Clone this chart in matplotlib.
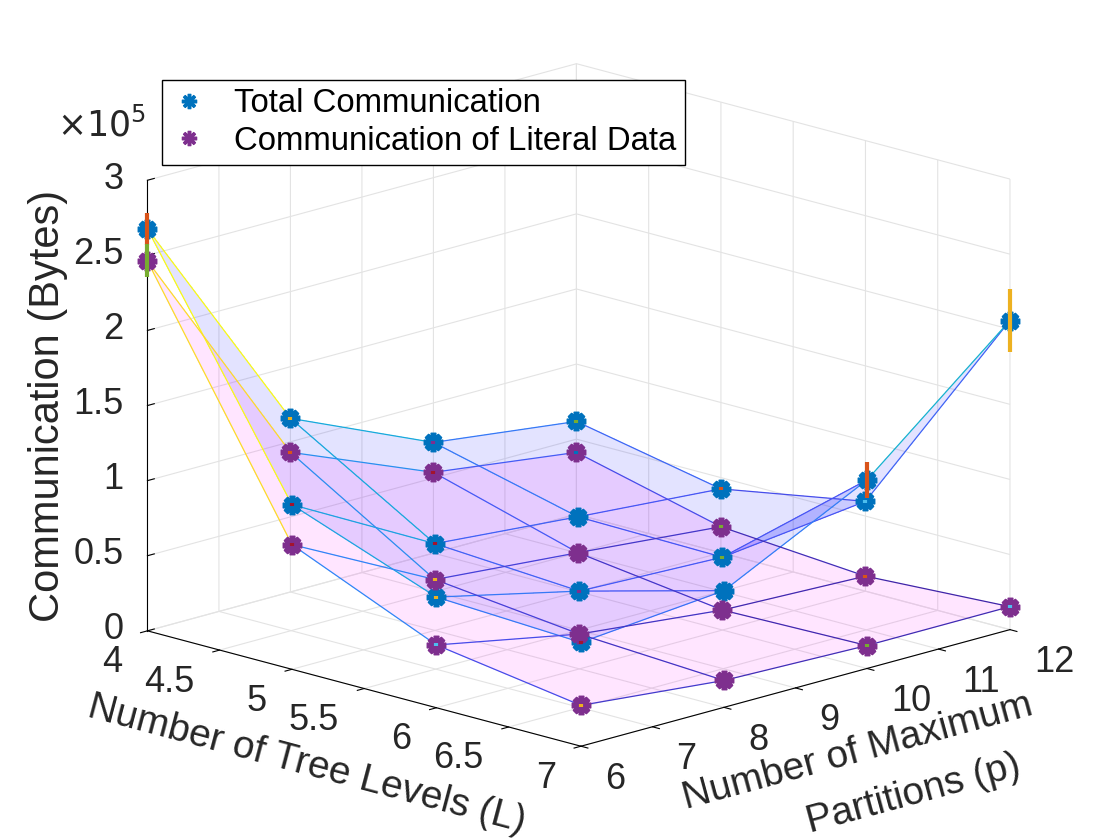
import numpy as np
import matplotlib.pyplot as plt
from matplotlib.colors import LinearSegmentedColormap, Normalize
from matplotlib.lines import Line2D
from matplotlib.transforms import offset_copy
from mpl_toolkits.mplot3d import proj3d
from mpl_toolkits.mplot3d.art3d import Line3DCollection

plt.rcParams['font.family'] = ['Liberation Sans', 'DejaVu Sans']

# ----- datos (bytes); filas = L, columnas = p -----
tree_levels = [4, 5, 6, 7]
max_partitions = [6, 8, 10, 12]

total_comm = [[267600, 115600, 73700, 61800],
              [109600, 57800, 49800, 42500],
              [73700, 51800, 48500, 59800],
              [69100, 77700, 125500, 205800]]
literal_comm = [[246300, 93000, 53800, 41200],
                [83000, 33900, 25900, 17300],
                [41800, 23200, 13300, 10000],
                [27200, 17900, 15300, 15300]]

total_err = [[10700, 1000, 1000, 1000],
             [1000, 1000, 1000, 1000],
             [1000, 1000, 1000, 1000],
             [1000, 1000, 12000, 21000]]
literal_err = [[11000, 1000, 1000, 1000],
               [1000, 1000, 1000, 1000],
               [1000, 1000, 1000, 1000],
               [1000, 1000, 1000, 1000]]

x_ticks = [4, 4.5, 5, 5.5, 6, 6.5, 7]
y_ticks = [6, 7, 8, 9, 10, 11, 12]
z_ticks = [0, 50000, 100000, 150000, 200000, 250000, 300000]
x_tick_labels = ['4', '4.5', '5', '5.5', '6', '6.5', '7']
y_tick_labels = ['6', '7', '8', '9', '10', '11', '12']
z_tick_labels = ['0', '0.5', '1', '1.5', '2', '2.5', '3']

# colores por defecto de matlab
mc = [(0, 0.447, 0.741), (0.85, 0.325, 0.098), (0.929, 0.694, 0.125),
      (0.494, 0.184, 0.556), (0.466, 0.674, 0.188), (0.301, 0.745, 0.933),
      (0.635, 0.078, 0.184)]
total_err_c = [[1, 2, 3, 4], [6, 6, 0, 1], [2, 3, 4, 5], [6, 0, 1, 2]]
literal_err_c = [[4, 1, 6, 0], [6, 2, 3, 4], [5, 3, 3, 1], [2, 3, 4, 5]]

parula = LinearSegmentedColormap.from_list('parula', [
    (0.2422, 0.1504, 0.6603), (0.2810, 0.3228, 0.9579), (0.1786, 0.5289, 0.9682),
    (0.0689, 0.6948, 0.8394), (0.2161, 0.7843, 0.5923), (0.6720, 0.7793, 0.2227),
    (0.9970, 0.7659, 0.2199), (0.9769, 0.9839, 0.0805)])

X, Y = np.meshgrid(tree_levels, max_partitions, indexing='ij')
Zt = np.array(total_comm, float)
Zl = np.array(literal_comm, float)
norm = Normalize(min(Zt.min(), Zl.min()), max(Zt.max(), Zl.max()))

fig = plt.figure(figsize=(11.2, 8.4), dpi=100)
ax = fig.add_axes([-0.0225, -0.201, 1.05, 1.4], projection='3d', proj_type='ortho',
                  computed_zorder=False)
ax.view_init(elev=15.6, azim=-45.3)
ax.set_box_aspect((1, 1, 0.767), zoom=0.81)

for axis in (ax.xaxis, ax.yaxis, ax.zaxis):
    axis.set_pane_color((1, 1, 1, 0))
    axis.pane.set_edgecolor('#d9d9d9')
    axis._axinfo['grid'].update(color='#e3e3e3', linewidth=0.8)
    axis._axinfo['axisline'].update(color='black', linewidth=0.8)
    axis._axinfo['tick'].update(inward_factor=0.2, outward_factor=0.0)
    axis.line.set_color('black')
ax.zaxis._axinfo['tick'].update(inward_factor=0.0, outward_factor=0.2)
ax.zaxis.set_ticks_position('lower')
ax.zaxis.set_label_position('lower')


def malla(Z, face):
    ax.plot_surface(X, Y, Z, color=face, shade=False, linewidth=0, antialiased=False)
    segs, cols = [], []
    n, m = Z.shape
    for i in range(n):
        for j in range(m):
            c = parula(norm(Z[i, j]))
            if i + 1 < n:
                segs.append([(X[i, j], Y[i, j], Z[i, j]), (X[i + 1, j], Y[i + 1, j], Z[i + 1, j])])
                cols.append(c)
            if j + 1 < m:
                segs.append([(X[i, j], Y[i, j], Z[i, j]), (X[i, j + 1], Y[i, j + 1], Z[i, j + 1])])
                cols.append(c)
    ax.add_collection3d(Line3DCollection(segs, colors=cols, linewidths=0.9))


malla(Zt, (0, 0, 1, 0.11))
malla(Zl, (1, 0, 1, 0.10))

ast = (8, 2, 0)
ax.plot(X.ravel(), Y.ravel(), Zt.ravel(), ls='none', marker=ast, ms=14, mew=4, color=mc[0])
ax.plot(X.ravel(), Y.ravel(), Zl.ravel(), ls='none', marker=ast, ms=14, mew=4, color=mc[3])

E_t = np.array(total_err, float)
E_l = np.array(literal_err, float)
for i in range(4):
    for j in range(4):
        x, y = X[i, j], Y[i, j]
        ax.plot([x, x], [y, y], [Zt[i, j] - E_t[i, j], Zt[i, j] + E_t[i, j]],
                color=mc[total_err_c[i][j]], lw=3, solid_capstyle='butt')
        ax.plot([x, x], [y, y], [Zl[i, j] - E_l[i, j], Zl[i, j] + E_l[i, j]],
                color=mc[literal_err_c[i][j]], lw=3, solid_capstyle='butt')

ax.set_xlim(4, 7)
ax.set_ylim(6, 12)
ax.set_zlim(0, 3e5)
ax.set_xticks(x_ticks)
ax.set_yticks(y_ticks)
ax.set_zticks(z_ticks)
ax.set_xticklabels([])
ax.set_yticklabels([])
ax.set_zticklabels([])

# etiquetas de los ticks estilo matlab (desplazamiento fijo en pixeles)
tc = '#262626'
fs_tick = 26
M = ax.get_proj()


def etiqueta(x, y, z, s, dx, dy, ha):
    px, py, _ = proj3d.proj_transform(x, y, z, M)
    tr = offset_copy(ax.transData, fig=fig, x=dx, y=dy, units='dots')
    ax.text2D(px, py, s, transform=tr, ha=ha, va='center', fontsize=fs_tick, color=tc)


for t, s in zip(x_ticks, x_tick_labels):
    etiqueta(t, y_ticks[0], z_ticks[0], s, -25, -32, 'right')
for t, s in zip(y_ticks, y_tick_labels):
    etiqueta(x_ticks[-1], t, z_ticks[0], s, 24, -33, 'left')
for t, s in zip(z_ticks, z_tick_labels):
    etiqueta(x_ticks[0], y_ticks[0], t, s, -24, 1, 'right')

ax.set_xlabel('Number of Tree Levels (L)', fontsize=28, color=tc, labelpad=38)
ax.set_ylabel('Number of Maximum\n        Partitions (p)', fontsize=28, color=tc,
              labelpad=50, linespacing=1.7)
ax.set_zlabel('Communication (Bytes)', fontsize=30, color=tc, labelpad=30)

fig.text(0.051, 0.838, r'$\times10^{5}$', fontsize=25, color=tc)

h = [Line2D([], [], ls='none', marker=ast, ms=11, mew=2.5, color=mc[0]),
     Line2D([], [], ls='none', marker=ast, ms=11, mew=2.5, color=mc[3])]
fig.legend(h, ['Total Communication', 'Communication of Literal Data'],
           loc='upper left', bbox_to_anchor=(0.1446, 0.905), fontsize=23.7,
           frameon=True, fancybox=False, edgecolor='black', framealpha=1,
           borderaxespad=0, borderpad=0.25, handlelength=1.15, handletextpad=0.8,
           labelspacing=0.2)

fig.savefig('out.png', dpi=100)
